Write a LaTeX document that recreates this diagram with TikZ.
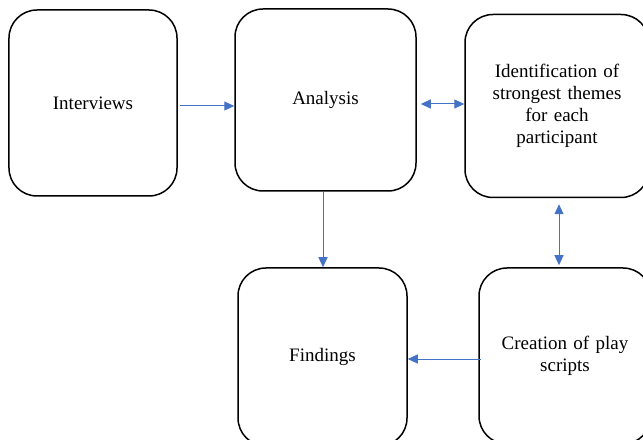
\documentclass[tikz,border=0pt]{standalone}
\usepackage{fontspec}
\setmainfont{Liberation Serif}
\usetikzlibrary{arrows.meta}
\definecolor{arrblue}{HTML}{4472C4}
\tikzset{
  stagebox/.style={draw=black, line width=1.5bp, rounded corners=28bp, fill=white,
    inner sep=0pt, align=center, font=\fontsize{19bp}{22bp}\selectfont},
  arr/.style={draw=arrblue, line width=1bp, -{Triangle[length=10bp,width=9bp]}},
  darr/.style={draw=arrblue, line width=1bp, {Triangle[length=10bp,width=9bp]}-{Triangle[length=10bp,width=9bp]}}
}
\begin{document}
\begin{tikzpicture}[x=1bp,y=-1bp]
\useasboundingbox (0,0) rectangle (643,440);
\clip (0,0) rectangle (643,440);
\node[stagebox, minimum width=168bp, minimum height=186bp] (iv) at (93,103) {Interviews};
\node[stagebox, minimum width=181bp, minimum height=182bp] (an) at (325.5,100) {Analysis};
\node[stagebox, minimum width=184bp, minimum height=183bp, text width=170bp] (id) at (557,106) {Identification of\\strongest themes\\for each\\participant};
\node[stagebox, minimum width=169bp, minimum height=178bp] (fi) at (322.5,357) {Findings};
\node[stagebox, minimum width=172bp, minimum height=176bp, text width=160bp] (cr) at (565,356) {Creation of play\\scripts};
\draw[arr] ([xshift=2bp,yshift=-3bp]iv.east) -- ([yshift=-3bp]an.west |- iv.east);
\draw[darr] ([xshift=4bp,yshift=-4bp]an.east) -- ([yshift=-4bp]id.west |- an.east);
\draw[arr] ([xshift=-2.5bp]an.south) -- ([xshift=-2.5bp]an.south |- fi.north);
\draw[darr] ([yshift=-6bp]id.south -| 559,0) -- ([yshift=2bp]cr.north -| 559,0);
\draw[arr] ([xshift=3bp,yshift=-3bp]cr.west) -- ([yshift=-3bp]fi.east |- cr.west);
\end{tikzpicture}
\end{document}
